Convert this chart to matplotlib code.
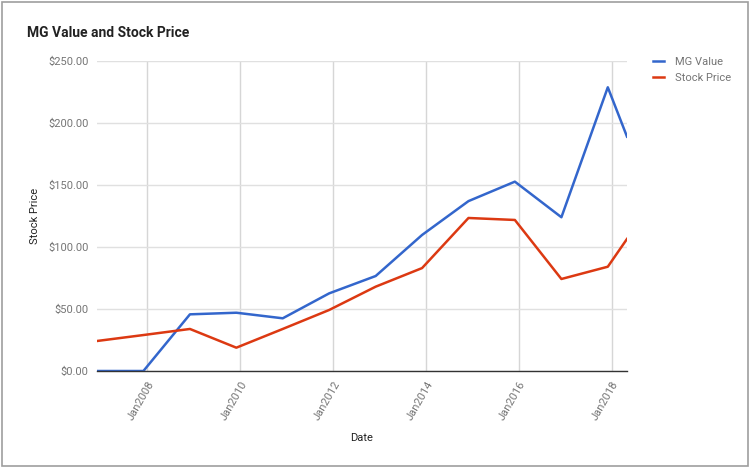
import numpy as np
import pandas as pd
import matplotlib
matplotlib.use("Agg")
import matplotlib.pyplot as plt
import matplotlib.dates as mdates
from matplotlib.patches import Rectangle

plt.rcParams['font.family'] = ['Roboto', 'DejaVu Sans']

# data (roughly one point per year, ~Dec)
dates = pd.to_datetime(["2006-12-01", "2007-12-01", "2008-12-01", "2009-12-01",
                        "2010-12-01", "2011-12-01", "2012-12-01", "2013-12-01",
                        "2014-12-01", "2015-12-01", "2016-12-01", "2017-12-01",
                        "2018-05-01"])
mg_value = [0.0, 0.0, 45.7, 47.0, 42.5, 62.6, 76.6, 109.7, 137.0, 152.7, 124.0, 228.8, 189.0]
stock_price = [24.2, 29.0, 33.9, 18.8, 33.9, 49.2, 68.0, 83.0, 123.4, 121.8, 74.2, 84.1, 106.5]

yticks = [0, 50, 100, 150, 200, 250]
xtick_years = [2008, 2010, 2012, 2014, 2016, 2018]

blue = "#3366cc"
red = "#dc3912"
grey = "#757575"
gridc = "#e0e0e0"

fig = plt.figure(figsize=(7.5, 4.7), dpi=100)
ax = fig.add_axes([97/750, 1 - 371/470, (627-97)/750, (371-61)/470])

ax.plot(dates, mg_value, color=blue, lw=1.8, label="MG Value")
ax.plot(dates, stock_price, color=red, lw=1.8, label="Stock Price")

ax.set_xlim(dates[0], dates[-1])
ax.set_ylim(0, 250)
ax.set_yticks(yticks)
ax.set_yticklabels(["${:.2f}".format(v) for v in yticks])
xt = pd.to_datetime(["{}-01-01".format(y) for y in xtick_years])
ax.set_xticks(xt)
ax.set_xticklabels(["Jan{}".format(y) for y in xtick_years], rotation=60,
                   ha="right", rotation_mode="anchor")

ax.grid(True, color=gridc, lw=1)
ax.xaxis.grid(True, color="#d6d6d6", lw=1)
ax.set_axisbelow(True)
for s in ["top", "right", "left"]:
    ax.spines[s].set_visible(False)
ax.spines["bottom"].set_color("#333333")
ax.spines["bottom"].set_linewidth(1)
ax.tick_params(axis="y", length=0, labelsize=8, labelcolor=grey, pad=6)
ax.tick_params(axis="x", length=0, labelsize=8, labelcolor=grey, pad=6)

ax.set_xlabel("Date", fontsize=8, color="#222222", labelpad=8)
ax.set_ylabel("Stock Price", fontsize=8, color="#222222", labelpad=6)

fig.text(27/750, 1 - 33/470, "MG Value and Stock Price", fontsize=10,
         fontweight="bold", color="#222222", va="center", ha="left")

ax.legend(loc="upper left", bbox_to_anchor=(1.03, 1.045), frameon=False,
          fontsize=8, labelcolor=grey, handlelength=1.0, handletextpad=1.0,
          labelspacing=0.55)

fig.patches.append(Rectangle((2/750, 4/470), 746/750, 464/470,
                             transform=fig.transFigure, fill=False,
                             edgecolor="#9e9e9e", lw=1.2))

fig.savefig("out.png", dpi=100)
